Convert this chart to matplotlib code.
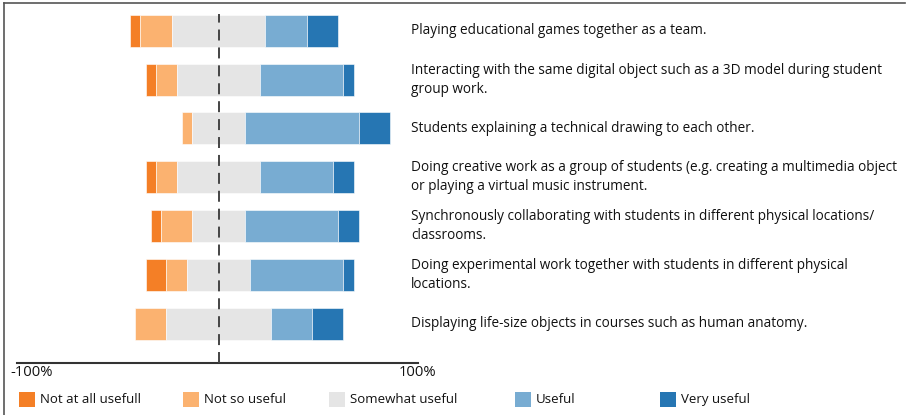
import matplotlib
matplotlib.use("Agg")
import matplotlib.pyplot as plt
import matplotlib.transforms as mtransforms
from matplotlib.patches import Rectangle
from matplotlib.lines import Line2D
import numpy as np

# survey answers in percent (20 respondents)
items = [
    "Playing educational games together as a team.",
    "Interacting with the same digital object such as a 3D model during student\ngroup work.",
    "Students explaining a technical drawing to each other.",
    "Doing creative work as a group of students (e.g. creating a multimedia object\nor playing a virtual music instrument.",
    "Synchronously collaborating with students in different physical locations/\nclassrooms.",
    "Doing experimental work together with students in different physical\nlocations.",
    "Displaying life-size objects in courses such as human anatomy.",
]
not_at_all = [5, 5, 0, 5, 5, 10, 0]
not_so = [15, 10, 5, 10, 15, 10, 15]
somewhat = [45, 40, 25, 40, 25, 30, 50]
useful = [20, 40, 55, 35, 45, 45, 20]
very = [15, 5, 15, 10, 10, 5, 15]

cats = ["Not at all usefull", "Not so useful", "Somewhat useful", "Useful", "Very useful"]
colors = ["#F47F26", "#FBB270", "#E5E5E5", "#78ACD2", "#2676B3"]

plt.rcParams['font.family'] = ['Open Sans', 'DejaVu Sans']
plt.rcParams['lines.scale_dashes'] = False
FS = 9.8
FS_LEG = 9.5
FS_AX = 10.6

W, H = 906, 415
fig = plt.figure(figsize=(W / 100, H / 100), dpi=100)

def fx(px):
    return px / W

def fy(py):
    return 1 - py / H

ppu = 2.083     # pixels per percent
x0 = 218.5      # pixel of the centre line
row0, rstep = 30.7, 48.83
axis_y = 362.5

ax = fig.add_axes([0, fy(axis_y), 1, axis_y / H])
ax.set_xlim(-x0 / ppu, (W - x0) / ppu)
ax.set_ylim((axis_y - row0) / rstep, -row0 / rstep)

data = np.array([not_at_all, not_so, somewhat, useful, very], dtype=float)
y = np.arange(len(items))
left = -(data[0] + data[1] + data[2] / 2)
for vals, c in zip(data, colors):
    ax.barh(y, vals, left=left, height=0.655, color=c, edgecolor="white",
            linewidth=0.4, zorder=2)
    left = left + vals

# centre line
ax.plot([0, 0], [(axis_y - row0) / rstep, (14 - row0) / rstep], color="#444444",
        lw=1.4, dashes=(7.9, 5.0), zorder=3)

for s in ["top", "left", "right"]:
    ax.spines[s].set_visible(False)
ax.spines["bottom"].set_bounds((16.5 - x0) / ppu, (418 - x0) / ppu)
ax.spines["bottom"].set_color("#333333")
ax.spines["bottom"].set_linewidth(1.5)
ax.set_xticks([])
ax.set_yticks([])
ax.patch.set_alpha(0)

trans = mtransforms.blended_transform_factory(fig.transFigure, ax.transData)
for i, txt in enumerate(items):
    ax.text(fx(411), i, txt, transform=trans, ha="left", va="center",
            fontsize=FS, linespacing=1.36, color="#111111")

fig.text(fx(10), fy(372.5), "-100%", ha="left", va="center", fontsize=FS_AX, color="#111111")
fig.text(fx(418), fy(372.5), "100%", ha="center", va="center", fontsize=FS_AX, color="#111111")

# legend
leg_x = [19, 183, 329, 515, 660]
for lx, c, name in zip(leg_x, colors, cats):
    fig.patches.append(Rectangle((fx(lx), fy(407)), 16 / W, 15 / H, transform=fig.transFigure,
                                 facecolor=c, edgecolor="none"))
    fig.text(fx(lx + 21), fy(399), name, ha="left", va="center", fontsize=FS_LEG, color="#111111")

# frame
fig.add_artist(Line2D([fx(4), fx(4)], [0, fy(3)], color="#555555", lw=1.2))
fig.add_artist(Line2D([fx(4), fx(905)], [fy(3), fy(3)], color="#555555", lw=1.2))

fig.savefig("out.png", dpi=100)
